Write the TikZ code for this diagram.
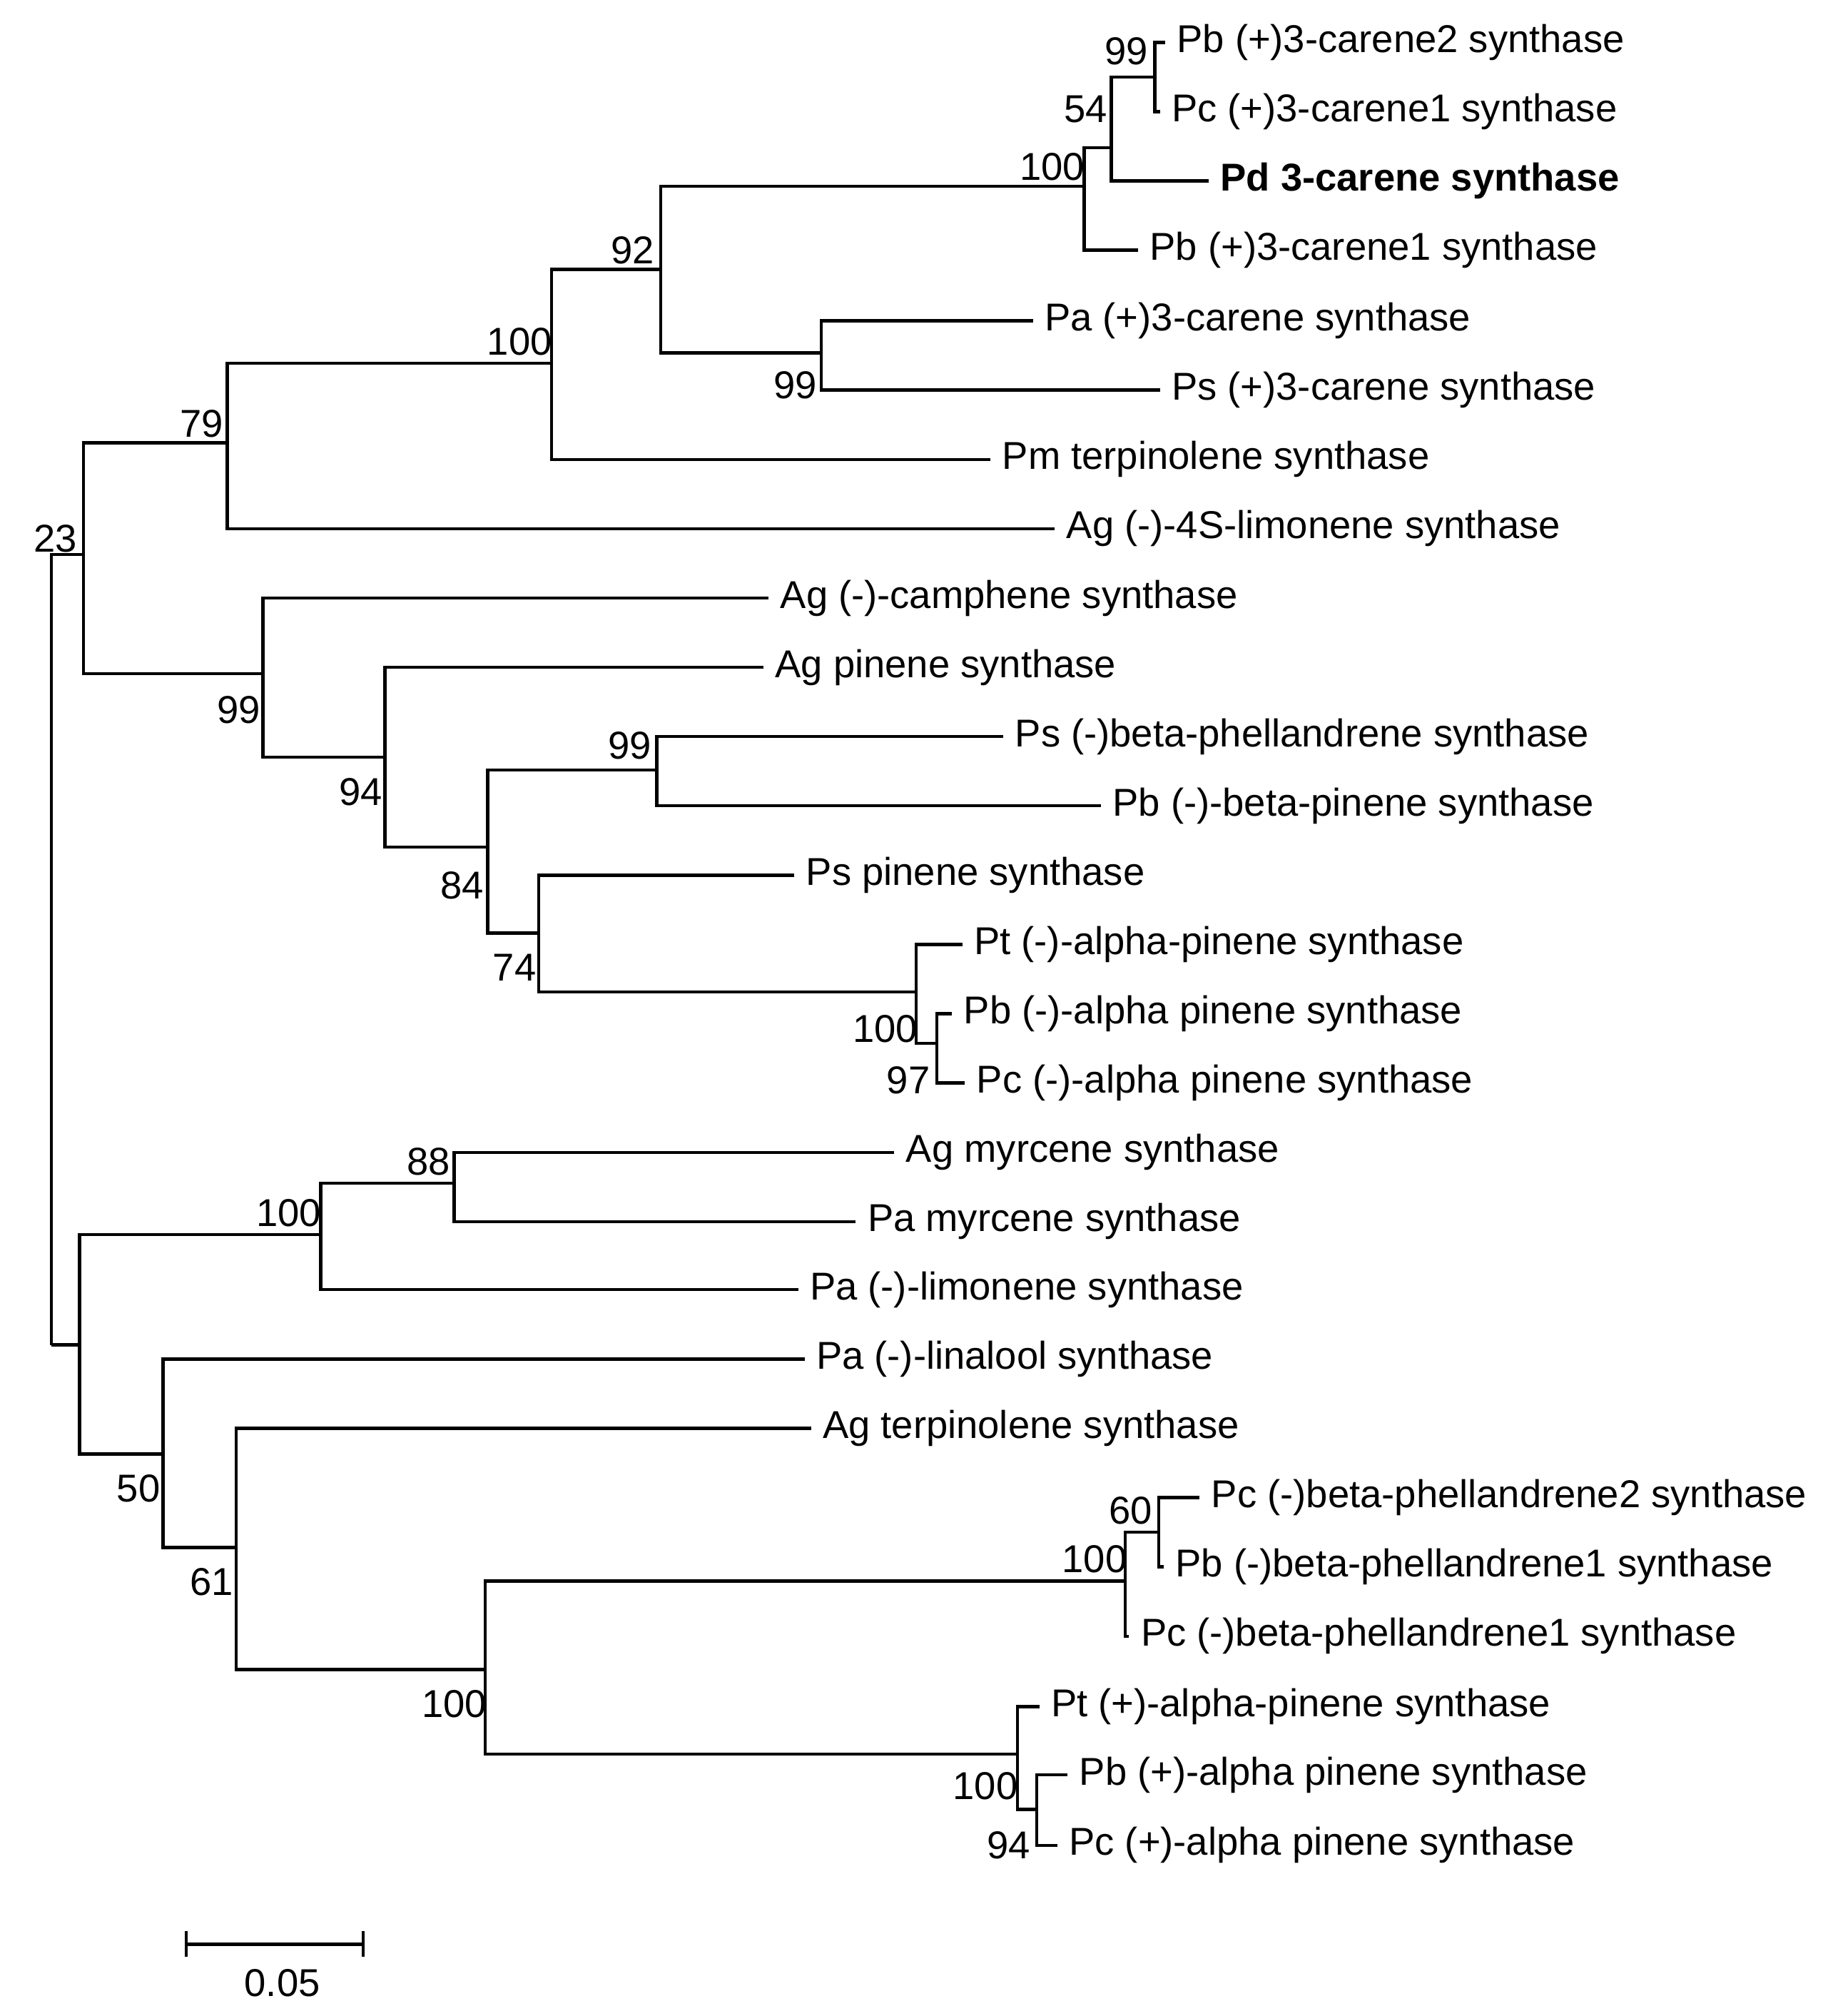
\documentclass[tikz,border=0pt]{standalone}
\usepackage{fontspec}
\setmainfont{Liberation Sans}
\begin{document}
\begin{tikzpicture}[x=0.01cm,y=-0.01cm,line width=0.7pt,
 leaf/.style={anchor=west,inner xsep=0.08cm,inner ysep=0pt,font=\fontsize{8.6}{10}\selectfont},
 bs/.style={inner sep=0pt,font=\fontsize{8.6}{10}\selectfont},
 br/.style={draw,line width=0.7pt}]
\useasboundingbox (0,0) rectangle (1440,1571);
% internal nodes
\coordinate (r) at (40,1048);
\coordinate (a) at (65,432);
\coordinate (n79) at (177,345);
\coordinate (n100a) at (430,283);
\coordinate (n92) at (515,210);
\coordinate (n100b) at (845,145);
\coordinate (n54) at (866,115);
\coordinate (n99a) at (900,60);
\coordinate (n99b) at (640,275);
\coordinate (n99c) at (205,525);
\coordinate (n94) at (300,590);
\coordinate (n84) at (380,660);
\coordinate (n99d) at (512,600);
\coordinate (n74) at (420,727);
\coordinate (n100c) at (714,773);
\coordinate (n97) at (730,813);
\coordinate (b) at (62,1048);
\coordinate (n100d) at (250,962);
\coordinate (n88) at (354,922);
\coordinate (n50) at (127,1133);
\coordinate (n61) at (184,1206);
\coordinate (n100e) at (378,1301);
\coordinate (n100f) at (877,1232);
\coordinate (n60) at (903,1194);
\coordinate (n100g) at (793,1367);
\coordinate (n94b) at (808,1410);
% leaves
\node[leaf] (l1) at (908,33) {Pb (+)3-carene2 synthase};
\node[leaf] (l2) at (904,87) {Pc (+)3-carene1 synthase};
\node[leaf] (l3) at (942,141) {\textbf{Pd 3-carene synthase}};
\node[leaf] (l4) at (887,195) {Pb (+)3-carene1 synthase};
\node[leaf] (l5) at (805,250) {Pa (+)3-carene synthase};
\node[leaf] (l6) at (904,304) {Ps (+)3-carene synthase};
\node[leaf] (l7) at (772,358) {Pm terpinolene synthase};
\node[leaf] (l8) at (822,412) {Ag (-)-4S-limonene synthase};
\node[leaf] (l9) at (599,466) {Ag (-)-camphene synthase};
\node[leaf] (l10) at (595,520) {Ag pinene synthase};
\node[leaf] (l11) at (782,574) {Ps (-)beta-phellandrene synthase};
\node[leaf] (l12) at (858,628) {Pb (-)-beta-pinene synthase};
\node[leaf] (l13) at (619,682) {Ps pinene synthase};
\node[leaf] (l14) at (750,736) {Pt (-)-alpha-pinene synthase};
\node[leaf] (l15) at (742,790) {Pb (-)-alpha pinene synthase};
\node[leaf] (l16) at (752,844) {Pc (-)-alpha pinene synthase};
\node[leaf] (l17) at (697,898) {Ag myrcene synthase};
\node[leaf] (l18) at (667,952) {Pa myrcene synthase};
\node[leaf] (l19) at (622,1005) {Pa (-)-limonene synthase};
\node[leaf] (l20) at (627,1059) {Pa (-)-linalool synthase};
\node[leaf] (l21) at (632,1113) {Ag terpinolene synthase};
\node[leaf] (l22) at (935,1167) {Pc (-)beta-phellandrene2 synthase};
\node[leaf] (l23) at (907,1221) {Pb (-)beta-phellandrene1 synthase};
\node[leaf] (l24) at (880,1275) {Pc (-)beta-phellandrene1 synthase};
\node[leaf] (l25) at (810,1330) {Pt (+)-alpha-pinene synthase};
\node[leaf] (l26) at (832,1383) {Pb (+)-alpha pinene synthase};
\node[leaf] (l27) at (824,1438) {Pc (+)-alpha pinene synthase};
% branches
\foreach \p/\c in {r/a,r/b,a/n79,a/n99c,n79/n100a,n79/l8.west,n100a/n92,n100a/l7.west,
 n92/n100b,n92/n99b,n100b/n54,n100b/l4.west,n54/n99a,n54/l3.west,n99a/l1.west,n99a/l2.west,
 n99b/l5.west,n99b/l6.west,n99c/l9.west,n99c/n94,n94/l10.west,n94/n84,n84/n99d,n84/n74,
 n99d/l11.west,n99d/l12.west,n74/l13.west,n74/n100c,n100c/l14.west,n100c/n97,n97/l15.west,n97/l16.west,
 b/n100d,b/n50,n100d/n88,n100d/l19.west,n88/l17.west,n88/l18.west,n50/l20.west,n50/n61,
 n61/l21.west,n61/n100e,n100e/n100f,n100e/n100g,n100f/n60,n100f/l24.west,n60/l22.west,n60/l23.west,
 n100g/l25.west,n100g/n94b,n94b/l26.west,n94b/l27.west}
 \draw (\p) |- (\c);
% bootstrap values
\foreach \t/\x/\y in {23/43/420,79/157/330,100/405/266,92/493/195,100/820/130,54/846/85,99/878/40,
 99/620/300,99/186/553,94/281/617,99/491/581,84/360/690,74/401/754,100/690/802,97/708/842,
 100/225/945,88/334/905,50/108/1160,61/165/1233,100/853/1215,60/881/1177,100/354/1328,100/768/1392,94/786/1438}
 \node[bs] at (\x,\y) {\t};
% scale bar
\coordinate (s1) at (145,1515); \coordinate (s2) at (283,1515);
\draw (s1) -- (s2);
\draw ([yshift=0.1cm]s1) -- ([yshift=-0.1cm]s1);
\draw ([yshift=0.1cm]s2) -- ([yshift=-0.1cm]s2);
\node[bs] (sl) at (220,1545) {0.05};
\end{tikzpicture}
\end{document}
